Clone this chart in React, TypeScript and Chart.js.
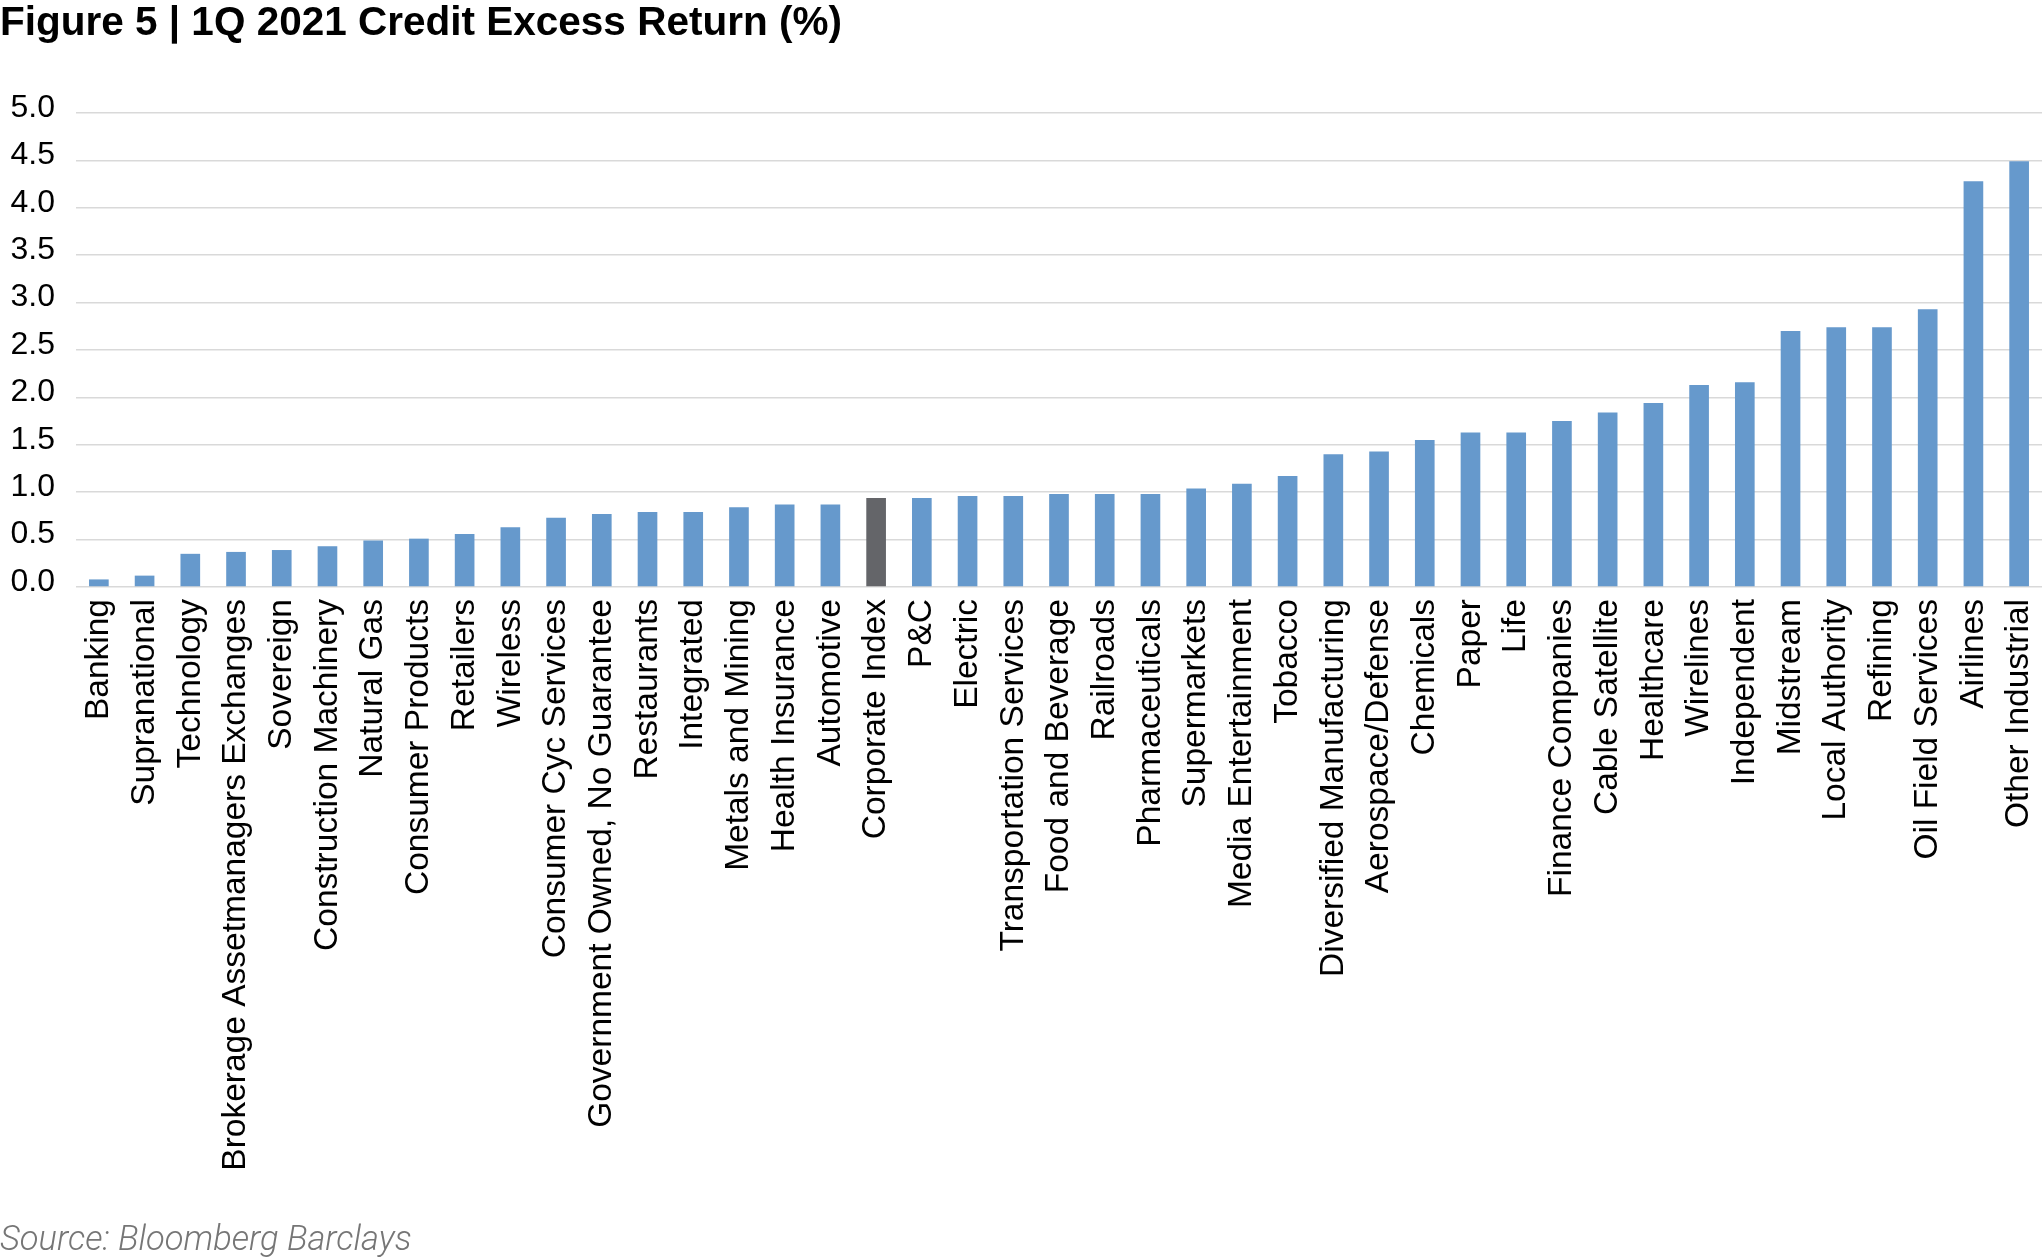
import React, { useEffect, useRef } from "react";
import { Chart, registerables } from "chart.js";

Chart.register(...registerables);

const TITLE = "Figure 5 | 1Q 2021 Credit Excess Return (%)";
const SOURCE = "Source: Bloomberg Barclays";

const categories = [
  "Banking",
  "Supranational",
  "Technology",
  "Brokerage Assetmanagers Exchanges",
  "Sovereign",
  "Construction Machinery",
  "Natural Gas",
  "Consumer Products",
  "Retailers",
  "Wireless",
  "Consumer Cyc Services",
  "Government Owned, No Guarantee",
  "Restaurants",
  "Integrated",
  "Metals and Mining",
  "Health Insurance",
  "Automotive",
  "Corporate Index",
  "P&C",
  "Electric",
  "Transportation Services",
  "Food and Beverage",
  "Railroads",
  "Pharmaceuticals",
  "Supermarkets",
  "Media Entertainment",
  "Tobacco",
  "Diversified Manufacturing",
  "Aerospace/Defense",
  "Chemicals",
  "Paper",
  "Life",
  "Finance Companies",
  "Cable Satellite",
  "Healthcare",
  "Wirelines",
  "Independent",
  "Midstream",
  "Local Authority",
  "Refining",
  "Oil Field Services",
  "Airlines",
  "Other Industrial",
];

const excessReturn = [
  0.08, 0.12, 0.35, 0.37, 0.39, 0.43, 0.49, 0.51, 0.56, 0.63,
  0.73, 0.77, 0.79, 0.79, 0.84, 0.87, 0.87, 0.94, 0.94, 0.96,
  0.96, 0.98, 0.98, 0.98, 1.04, 1.09, 1.17, 1.40, 1.43, 1.55,
  1.63, 1.63, 1.75, 1.84, 1.94, 2.13, 2.16, 2.70, 2.74, 2.74,
  2.93, 4.28, 4.49,
];

const highlightCategory = "Corporate Index";

const yMin = 0;
const yMax = 5;
const yStep = 0.5;

const W = 2042;
const H = 1258;
const PLOT_TOP = 113;
const PLOT_BOTTOM = 587;
const PLOT_LEFT = 76;

const TITLE_SIZE = 40.5;
const TITLE_LH = 1.05;
const TITLE_PAD_TOP = 3;
const SRC_SIZE = 34.5;
const SRC_LH = 0.98;
const SRC_PAD_BOTTOM = 0;

export default function App() {
  const ref = useRef<HTMLCanvasElement | null>(null);

  useEffect(() => {
    if (!ref.current) return;
    const colors = categories.map((c) =>
      c === highlightCategory ? "#646569" : "#6699CC"
    );
    const titleBoxBase = TITLE_PAD_TOP + TITLE_SIZE * TITLE_LH;
    const srcBox = SRC_SIZE * SRC_LH + SRC_PAD_BOTTOM;
    const chart = new Chart(ref.current, {
      type: "bar",
      data: {
        labels: categories,
        datasets: [
          {
            data: excessReturn,
            backgroundColor: colors,
            borderWidth: 0,
            categoryPercentage: 1,
            barPercentage: 0.43,
          },
        ],
      },
      options: {
        responsive: false,
        animation: false,
        devicePixelRatio: 1,
        layout: { padding: { top: 0, left: 0, right: 0, bottom: 0 } },
        plugins: {
          legend: { display: false },
          tooltip: { enabled: false },
          title: {
            display: true,
            text: TITLE,
            align: "start",
            color: "#000000",
            font: {
              family: "'Liberation Sans', Arial, sans-serif",
              size: TITLE_SIZE,
              weight: "bold",
              lineHeight: TITLE_LH,
            },
            padding: { top: TITLE_PAD_TOP, bottom: PLOT_TOP - titleBoxBase },
          },
          subtitle: {
            display: true,
            text: SOURCE,
            position: "bottom",
            align: "start",
            color: "#767676",
            font: {
              family: "Roboto, 'Liberation Sans', sans-serif",
              size: SRC_SIZE,
              style: "italic",
              weight: "300",
              lineHeight: SRC_LH,
            },
            padding: { top: 0, bottom: SRC_PAD_BOTTOM },
          },
        },
        scales: {
          x: {
            grid: { display: false, drawTicks: false },
            border: { display: false },
            ticks: {
              autoSkip: false,
              minRotation: 90,
              maxRotation: 90,
              padding: 12,
              color: "#000000",
              font: { family: "'Liberation Sans', Arial, sans-serif", size: 33.5 },
            },
            afterFit: (s: any) => {
              s.height = H - srcBox - PLOT_BOTTOM;
              s.paddingLeft = 0;
              s.paddingRight = 0;
            },
          },
          y: {
            min: yMin,
            max: yMax,
            grid: { color: "#d9d9d9", lineWidth: 1.5, drawTicks: false },
            border: { display: false },
            ticks: {
              stepSize: yStep,
              padding: 21,
              labelOffset: -5,
              color: "#000000",
              font: { family: "'Liberation Sans', Arial, sans-serif", size: 32 },
              callback: (v: any) => Number(v).toFixed(1),
            },
            afterFit: (s: any) => {
              s.width = PLOT_LEFT;
            },
          },
        },
      },
    });
    return () => chart.destroy();
  }, []);

  return (
    <div style={{ position: "absolute", left: 0, top: 0, width: W, height: H, background: "#ffffff" }}>
      <canvas ref={ref} width={W} height={H} style={{ display: "block", width: W, height: H }} />
    </div>
  );
}
